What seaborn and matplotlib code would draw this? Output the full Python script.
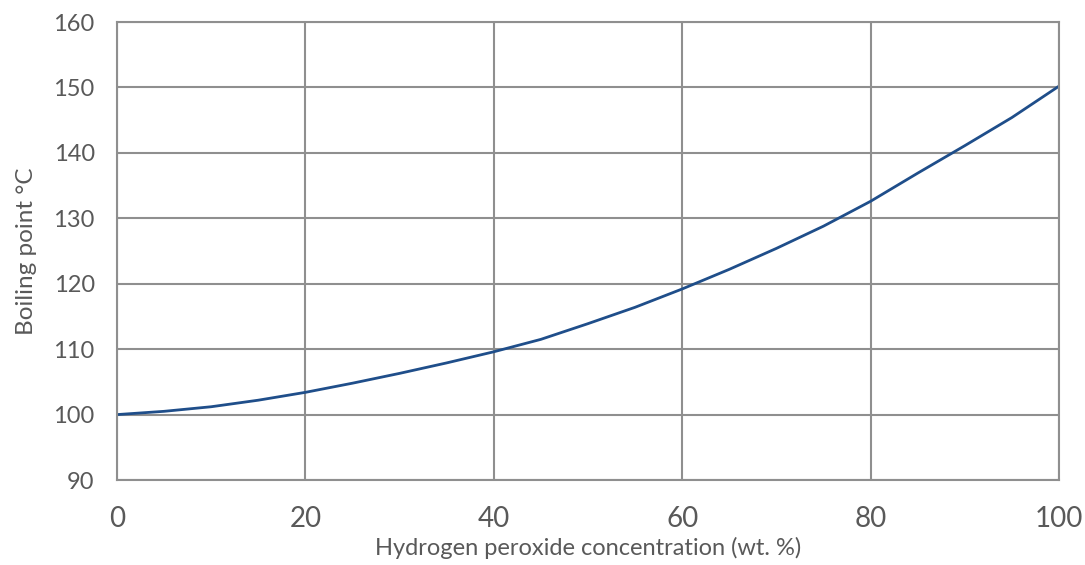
import pandas as pd
import numpy as np
import matplotlib
matplotlib.use("Agg")
import matplotlib.pyplot as plt
import seaborn as sns

# values
concentration = [0, 5, 10, 15, 20, 25, 30, 35, 40, 45, 50, 55, 60, 65, 70, 75, 80, 85, 90, 95, 100]
boiling_point = [100.0, 100.5, 101.2, 102.2, 103.4, 104.8, 106.3, 107.9, 109.6, 111.5, 113.9, 116.4, 119.2,
                 122.2, 125.4, 128.8, 132.6, 136.9, 141.1, 145.4, 150.2]

x_ticks = [0, 20, 40, 60, 80, 100]
y_ticks = [90, 100, 110, 120, 130, 140, 150, 160]

df = pd.DataFrame({"conc": concentration, "bp": boiling_point})

sns.set_style("white")
plt.rcParams['font.family'] = ['Lato', 'DejaVu Sans']

text_col = "#595959"
grid_col = "#8f8f8f"

fig = plt.figure(figsize=(10.85, 5.65), dpi=100)
ax = fig.add_axes([0.1078, 0.1504, 0.8682, 0.8106])

sns.lineplot(data=df, x="conc", y="bp", ax=ax, color="#1f4e8a", linewidth=2.0)

ax.set_xlim(0, 100)
ax.set_ylim(90, 160)
ax.set_xticks(x_ticks)
ax.set_yticks(y_ticks)
ax.grid(True, color=grid_col, linewidth=1.5)
ax.set_axisbelow(True)
for s in ax.spines.values():
    s.set_color(grid_col)
    s.set_linewidth(1.5)

ax.tick_params(axis="y", labelsize=17, colors=text_col, length=6, width=1.5, color=grid_col, pad=10)
ax.tick_params(axis="x", labelsize=20, colors=text_col, length=6, width=1.5, color=grid_col, pad=13)

ax.set_xlabel("Hydrogen peroxide concentration (wt. %)", fontsize=17, color=text_col, labelpad=3)
ax.set_ylabel("Boiling point °C", fontsize=17.5, color=text_col, labelpad=12)

plt.savefig("out.png", dpi=100)
